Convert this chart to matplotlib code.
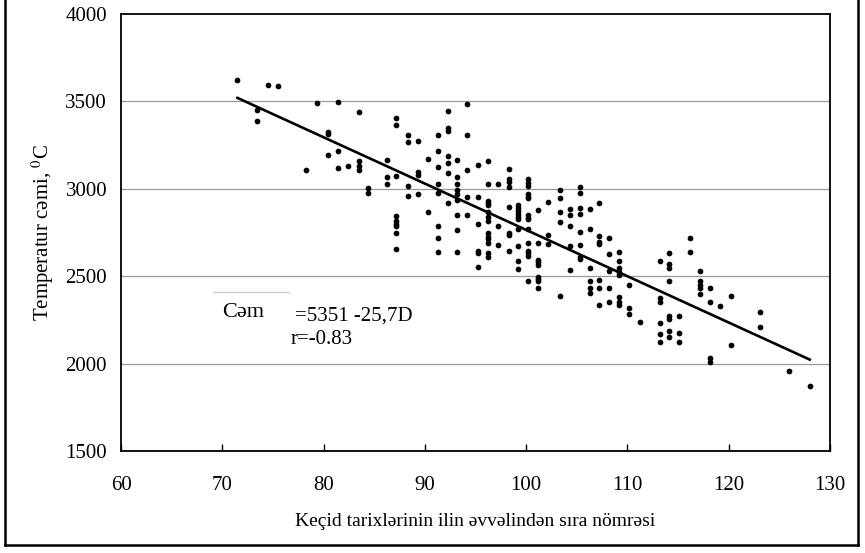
import matplotlib
matplotlib.use("Agg")
import matplotlib.pyplot as plt
from matplotlib.lines import Line2D
import numpy as np

plt.rcParams['font.family'] = ['Liberation Serif', 'DejaVu Serif']
plt.rcParams['mathtext.fontset'] = 'stix'

# day number (columns) and temperature sums
days = [71.5, 73.4, 74.5, 75.5, 78.3, 79.4, 80.4, 81.4, 82.4, 83.5, 84.4,
        86.3, 87.2, 88.3, 89.3, 90.3, 91.3, 92.3, 93.2, 94.2, 95.2, 96.2,
        97.2, 98.3, 99.2, 100.2, 101.2, 102.2, 103.3, 104.3, 105.3, 106.3,
        107.2, 108.2, 109.2, 110.2, 111.2, 113.2, 114.1, 115.1, 116.2,
        117.2, 118.2, 119.1, 120.2, 123.1, 126.0, 128.0]
temps = [
    [3620],
    [3450, 3390],
    [3595],
    [3590],
    [3110],
    [3490],
    [3325, 3315, 3195],
    [3495, 3215, 3120],
    [3130],
    [3440, 3160, 3130, 3110],
    [3005, 2975],
    [3165, 3065, 3030],
    [3405, 3365, 3075, 2845, 2815, 2800, 2785, 2750, 2655],
    [3305, 3265, 3015, 2960],
    [3275, 3095, 3080, 2970],
    [3170, 2865],
    [3305, 3215, 3125, 3030, 2975, 2790, 2720, 2640],
    [3445, 3350, 3330, 3190, 3145, 3090, 2920],
    [3165, 3065, 3030, 2995, 2970, 2935, 2850, 2765, 2640],
    [3485, 3310, 3105, 2955, 2850],
    [3135, 2955, 2800, 2645, 2635, 2550],
    [3160, 3030, 2930, 2920, 2905, 2865, 2840, 2815, 2745, 2725, 2710,
     2690, 2630, 2610],
    [3030, 2785, 2680],
    [3115, 3055, 3040, 3010, 2895, 2750, 2735, 2645],
    [2910, 2890, 2875, 2855, 2840, 2825, 2770, 2670, 2585, 2540],
    [3055, 3035, 3015, 2970, 2955, 2945, 2850, 2835, 2825, 2770, 2690,
     2645, 2635, 2615, 2470],
    [2880, 2690, 2595, 2580, 2565, 2495, 2485, 2470, 2430],
    [2925, 2735, 2685],
    [2995, 2945, 2865, 2810, 2385],
    [2885, 2850, 2790, 2670, 2535],
    [3010, 2975, 2890, 2855, 2755, 2680, 2610, 2600],
    [2885, 2770, 2545, 2475, 2435, 2405],
    [2920, 2730, 2695, 2685, 2480, 2430, 2335],
    [2720, 2625, 2530, 2435, 2350],
    [2640, 2585, 2545, 2525, 2505, 2380, 2355, 2335],
    [2450, 2320, 2285],
    [2240],
    [2585, 2375, 2355, 2230, 2170, 2125],
    [2635, 2570, 2545, 2470, 2270, 2255, 2185, 2155],
    [2275, 2175, 2125],
    [2720, 2640],
    [2530, 2470, 2450, 2435, 2400],
    [2430, 2350, 2030, 2010],
    [2330],
    [2385, 2105],
    [2295, 2210],
    [1955],
    [1870],
]

fit_x = [71.5, 128.0]
fit_y = [3520, 2023]

xticks = [60, 70, 80, 90, 100, 110, 120, 130]
yticks = [1500, 2000, 2500, 3000, 3500, 4000]

xs = np.concatenate([[d] * len(t) for d, t in zip(days, temps)])
ys = np.concatenate(temps)

fig = plt.figure(figsize=(8.65, 5.53), dpi=100)
ax = fig.add_axes([121 / 865, 1 - 451 / 553, (830 - 121) / 865, (451 - 14) / 553])

for yv in [2000, 2500, 3000, 3500]:
    ax.axhline(yv, color='#9a9a9a', lw=0.9, zorder=1)

ax.scatter(xs, ys, s=17, color='black', zorder=3, linewidths=0)
ax.plot(fit_x, fit_y, color='black', lw=1.9, zorder=4)

ax.set_xlim(60, 130)
ax.set_ylim(1500, 4000)
ax.set_xticks(xticks)
ax.set_yticks(yticks)
ax.tick_params(axis='x', direction='in', length=5, width=1, pad=18, labelsize=15)
ax.tick_params(axis='y', length=0, pad=10, labelsize=15)
for sp in ax.spines.values():
    sp.set_linewidth(1.3)

ax.set_xlabel('Keçid tarixlərinin ilin əvvəlindən sıra nömrəsi', fontsize=14, labelpad=13)
ax.set_ylabel('Temperatur cəmi, $^{0}$C', fontsize=15, labelpad=7)

ax.text(70.0, 2291, 'Cəm', fontsize=16, va='center', ha='left')
ax.text(77.2, 2274, '=5351 -25,7D', fontsize=15, va='center', ha='left')
ax.text(76.7, 2137, 'r=-0.83', fontsize=15, va='center', ha='left')
ax.plot([69.1, 76.6], [2410, 2410], color='#cfcfcf', lw=1, zorder=1)

# frame of the scanned page
fig.add_artist(Line2D([5 / 865, 5 / 865], [1, 1 - 545 / 553], color='black', lw=1.8))
fig.add_artist(Line2D([5 / 865, 858 / 865], [1 - 545 / 553, 1 - 545 / 553], color='black', lw=1.8))
fig.add_artist(Line2D([858 / 865, 858 / 865], [1, 1 - 545 / 553], color='black', lw=1.8))

fig.savefig('out.png', dpi=100)
